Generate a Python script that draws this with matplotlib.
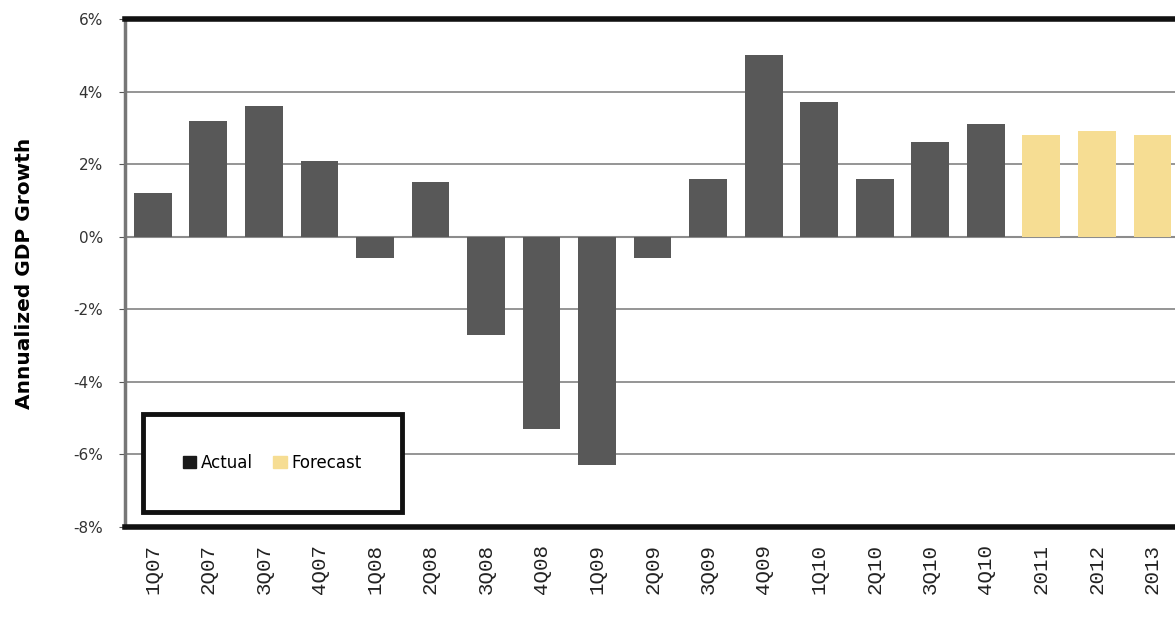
import numpy as np
import matplotlib
matplotlib.use("Agg")
import matplotlib.pyplot as plt
from matplotlib.patches import Patch

quarters = ['1Q07', '2Q07', '3Q07', '4Q07', '1Q08', '2Q08', '3Q08', '4Q08', '1Q09', '2Q09',
            '3Q09', '4Q09', '1Q10', '2Q10', '3Q10', '4Q10', '2011', '2012', '2013']
growth = [1.2, 3.2, 3.6, 2.1, -0.6, 1.5, -2.7, -5.3, -6.3, -0.6,
          1.6, 5.0, 3.7, 1.6, 2.6, 3.1, 2.8, 2.9, 2.8]
is_forecast = [False] * 16 + [True] * 3

actual_color = '#585858'
forecast_color = '#f6dd93'

fig = plt.figure(figsize=(11.75, 6.21), dpi=100)
ax = fig.add_axes([0.1064, 0.1514, 0.898, 0.818])

x = np.arange(len(quarters))
colors = [forecast_color if f else actual_color for f in is_forecast]
ax.bar(x, growth, width=0.68, color=colors, zorder=3)

ax.set_xlim(-0.5, len(quarters) - 0.5)
ax.set_ylim(-8, 6)
ax.set_yticks(np.arange(-8, 7, 2))
ax.set_yticklabels([f'{v}%' for v in range(-8, 7, 2)], fontsize=11, color='#333333')
ax.yaxis.grid(True, color='#8c8c8c', linewidth=1.3, zorder=0)
ax.axhline(0, color='#8c8c8c', linewidth=1.5, zorder=2)

ax.set_xticks(x)
ax.set_xticklabels(quarters, rotation=90, fontsize=15, family='Liberation Mono', color='#222222')
ax.tick_params(axis='x', length=0, pad=12)
ax.tick_params(axis='y', length=4, color='#555555', pad=12)

ax.set_ylabel('Annualized GDP Growth', fontsize=14.5, fontweight='bold', labelpad=28)

for side in ['top', 'bottom']:
    ax.spines[side].set_color('#111111')
    ax.spines[side].set_linewidth(4)
ax.spines['left'].set_color('#777777')
ax.spines['left'].set_linewidth(2.5)
ax.spines['right'].set_visible(False)

handles = [Patch(color='#1a1a1a', label='Actual'), Patch(color=forecast_color, label='Forecast')]
leg = ax.legend(handles=handles, loc='lower left', bbox_to_anchor=(0.017, 0.03), ncol=2,
                fontsize=12, frameon=True, fancybox=False, framealpha=1, borderpad=2.4,
                handlelength=0.8, handletextpad=0.3, columnspacing=1.2, borderaxespad=0)
leg.get_frame().set_edgecolor('#111111')
leg.get_frame().set_linewidth(3.5)
leg.set_zorder(5)

fig.savefig('out.png', dpi=100, facecolor='white')
